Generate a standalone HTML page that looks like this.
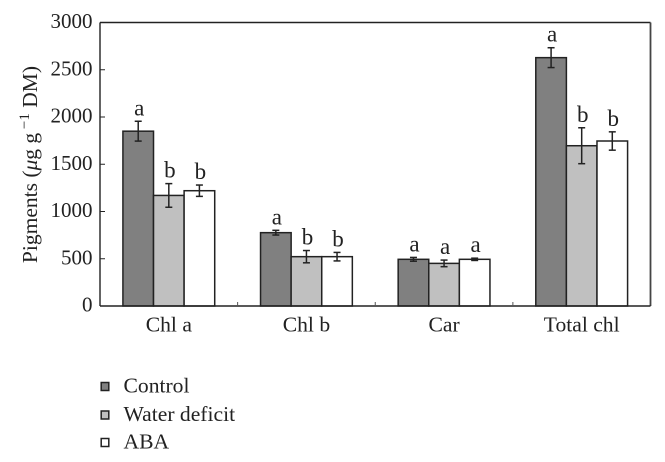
<!DOCTYPE html>
<html lang="en">
<head>
<meta charset="utf-8">
<title>Pigments chart</title>
<style>
html,body{margin:0;padding:0;background:#fff;width:665px;height:462px;overflow:hidden}
svg{display:block}
text{font-family:"Liberation Serif",serif;fill:#222}
</style>
</head>
<body>
<svg id="chart" width="665" height="462" viewBox="0 0 665 462" xmlns="http://www.w3.org/2000/svg">
  <rect x="100" y="22.5" width="550.5" height="283.5" fill="#fff" stroke="none"/>
  <text transform="translate(37,164.5) rotate(-90)" text-anchor="middle" font-size="21.5">Pigments (<tspan font-style="italic">μ</tspan>g g<tspan dy="-8" font-size="15"> −1</tspan><tspan dy="8"> DM)</tspan></text>
  <g>
    <rect x="101.2" y="382.5" width="7.6" height="8" fill="#808080" stroke="#222" stroke-width="1.5"/>
    <text x="123.5" y="392.7" font-size="21.6">Control</text>
    <rect x="101.2" y="411" width="7.6" height="8" fill="#c0c0c0" stroke="#222" stroke-width="1.5"/>
    <text x="123.5" y="421" font-size="21.6">Water deficit</text>
    <rect x="101.2" y="438.5" width="7.6" height="8" fill="#fff" stroke="#222" stroke-width="1.5"/>
    <text x="123.5" y="448.5" font-size="21.6">ABA</text>
  </g>
</svg>
<script>
var categories = ["Chl a", "Chl b", "Car", "Total chl"];
var seriesNames = ["control", "water-deficit", "aba"];
var controlValues = [1850, 776, 494, 2628];
var waterDeficitValues = [1170, 522, 451, 1696];
var abaValues = [1220, 522, 494, 1746];
var controlErrors = [105, 25, 20, 105];
var waterDeficitErrors = [125, 65, 35, 190];
var abaErrors = [60, 45, 12, 97];
var controlLetters = ["a", "a", "a", "a"];
var waterDeficitLetters = ["b", "b", "a", "b"];
var abaLetters = ["b", "b", "a", "b"];
var yTicks = [0, 500, 1000, 1500, 2000, 2500, 3000];

var svg = document.getElementById('chart');
var NS = 'http://www.w3.org/2000/svg';
var plotLeft = 100, plotRight = 650.5, plotTop = 22.5, plotBottom = 306, yMax = 3000;
var barWidth = 30.6;
var inkColor = '#222';
var fills = ['#808080', '#c0c0c0', '#ffffff'];
var values = [controlValues, waterDeficitValues, abaValues];
var errors = [controlErrors, waterDeficitErrors, abaErrors];
var letters = [controlLetters, waterDeficitLetters, abaLetters];

function yScale(v) {
  return plotBottom - (v / yMax) * (plotBottom - plotTop);
}
function bandStart(i) {
  return plotLeft + i * (plotRight - plotLeft) / categories.length;
}
function bandCenter(i) {
  return bandStart(i) + (plotRight - plotLeft) / categories.length / 2;
}
function barX(c, s) {
  return bandCenter(c) + (s - 1.5) * barWidth;
}
function make(tag, attrs) {
  var el = document.createElementNS(NS, tag);
  for (var k in attrs) el.setAttribute(k, attrs[k]);
  return el;
}

// Bars
categories.forEach(function (cat, c) {
  seriesNames.forEach(function (name, s) {
    var top = yScale(values[s][c]);
    var bar = make('rect', {x: barX(c, s), y: top, width: barWidth, height: plotBottom - top, fill: fills[s], stroke: inkColor, 'stroke-width': 1.5});
    
    
    svg.appendChild(bar);
  });
});

// Frame and axes
var frameTop = make('line', {x1: plotLeft, x2: plotRight, y1: plotTop, y2: plotTop, stroke: inkColor, 'stroke-width': 1.4});


svg.appendChild(frameTop);
var frameRight = make('line', {x1: plotRight, x2: plotRight, y1: plotTop, y2: plotBottom, stroke: '#444', 'stroke-width': 1.8});


svg.appendChild(frameRight);
var yAxis = make('line', {x1: plotLeft, x2: plotLeft, y1: plotTop, y2: plotBottom, stroke: inkColor, 'stroke-width': 1.4});


svg.appendChild(yAxis);
var xAxis = make('line', {x1: plotLeft, x2: plotRight, y1: plotBottom, y2: plotBottom, stroke: inkColor, 'stroke-width': 1.4});


svg.appendChild(xAxis);

// Y ticks and labels
yTicks.forEach(function (t) {
  var y = yScale(t);
  var tick = make('line', {x1: plotLeft, x2: plotLeft + 5, y1: y, y2: y, stroke: inkColor, 'stroke-width': 1});
  
  
  svg.appendChild(tick);
  var label = make('text', {x: 92.5, y: y + 5.5, 'text-anchor': 'end', 'font-size': 21});
  
  
  label.textContent = t;
  svg.appendChild(label);
});

// X ticks and labels
categories.forEach(function (cat, c) {
  if (c > 0) {
    var tick = make('line', {x1: bandStart(c), x2: bandStart(c), y1: plotBottom, y2: plotBottom - 4, stroke: '#555', 'stroke-width': 1});
    
    
    svg.appendChild(tick);
  }
  var label = make('text', {x: bandCenter(c), y: 331.5, 'text-anchor': 'middle', 'font-size': 21.6});
  
  
  label.textContent = cat;
  svg.appendChild(label);
});

// Error bars and significance letters
categories.forEach(function (cat, c) {
  seriesNames.forEach(function (name, s) {
    var cx = barX(c, s) + barWidth / 2;
    var hi = yScale(values[s][c] + errors[s][c]);
    var lo = yScale(values[s][c] - errors[s][c]);
    var stem = make('line', {x1: cx, x2: cx, y1: hi, y2: lo, stroke: inkColor, 'stroke-width': 1.5});
    
    
    svg.appendChild(stem);
    var capTop = make('line', {x1: cx - 3.5, x2: cx + 3.5, y1: hi, y2: hi, stroke: inkColor, 'stroke-width': 1.5});
    
    
    svg.appendChild(capTop);
    var capBottom = make('line', {x1: cx - 3.5, x2: cx + 3.5, y1: lo, y2: lo, stroke: inkColor, 'stroke-width': 1.5});
    
    
    svg.appendChild(capBottom);
    var letter = make('text', {x: cx + 1, y: hi - 6, 'text-anchor': 'middle', 'font-size': 23});
    
    
    letter.textContent = letters[s][c];
    svg.appendChild(letter);
  });
});
</script>
</body>
</html>
